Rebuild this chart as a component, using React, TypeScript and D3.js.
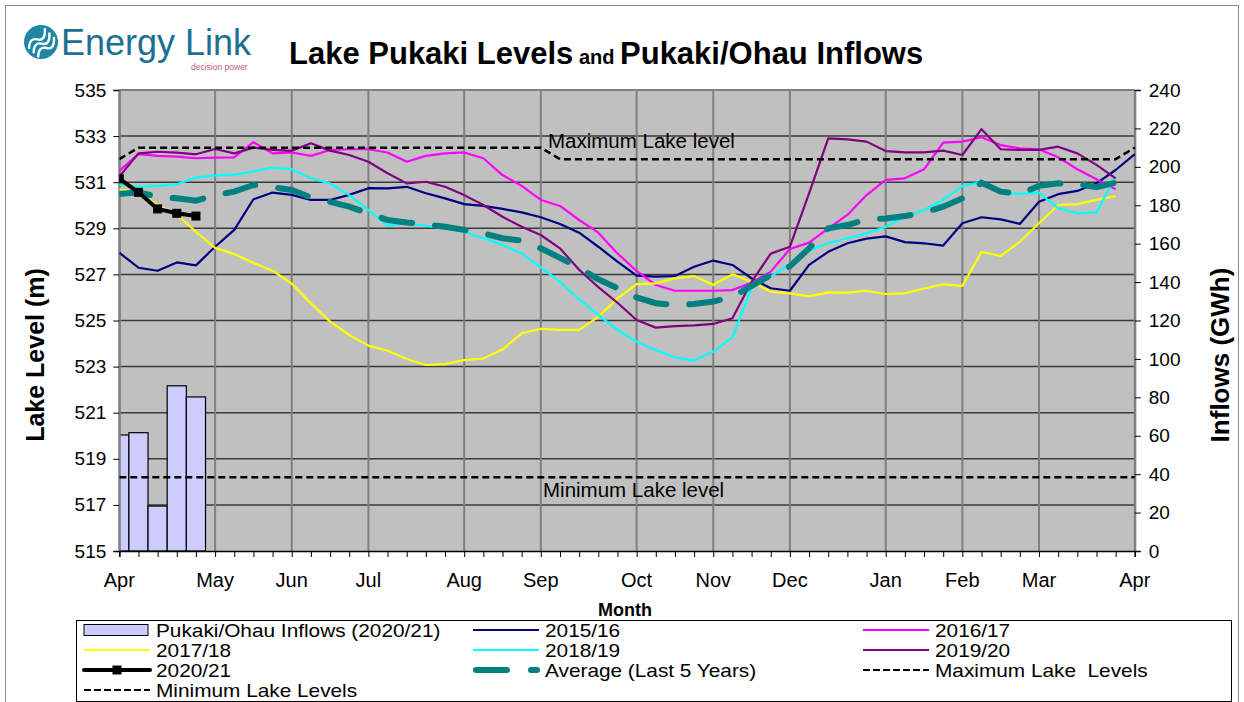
import React, { useEffect, useRef } from "react";
import * as d3 from "d3";

// months along the bottom, placed at week numbers
const monthLabels = ["Apr", "May", "Jun", "Jul", "Aug", "Sep", "Oct", "Nov", "Dec", "Jan", "Feb", "Mar", "Apr"];
const monthWeeks = [0, 5, 9, 13, 18, 22, 27, 31, 35, 40, 44, 48, 53];
const levelTicks = [515, 517, 519, 521, 523, 525, 527, 529, 531, 533, 535];
const inflowTicks = [0, 20, 40, 60, 80, 100, 120, 140, 160, 180, 200, 220, 240];

// weekly inflows 2020/21 (GWh)
const inflows2021 = [60.4, 61.6, 23.4, 86, 80.2];

// weekly lake levels (m)
const level1516 = [
  527.94, 527.29, 527.16, 527.52, 527.39, 528.2, 528.93, 530.26, 530.55, 530.45,
  530.23, 530.23, 530.45, 530.74, 530.73, 530.8, 530.52, 530.3, 530.05, 529.97,
  529.84, 529.69, 529.48, 529.19, 528.81, 528.2, 527.55, 526.95, 526.9, 526.93,
  527.33, 527.6, 527.41, 526.83, 526.4, 526.29, 527.41, 527.98, 528.35, 528.55,
  528.65, 528.4, 528.35, 528.25, 529.22, 529.48, 529.39, 529.19, 530.15, 530.48,
  530.62, 530.95, 531.53, 532.22,
];
const level1617 = [
  531.5, 532.22, 532.14, 532.11, 532.04, 532.07, 532.08, 532.74, 532.25, 532.29,
  532.14, 532.4, 532.43, 532.43, 532.29, 531.89, 532.14, 532.25, 532.29, 532.04,
  531.31, 530.84, 530.23, 529.97, 529.36, 528.81, 527.91, 527.15, 526.54, 526.29,
  526.29, 526.29, 526.32, 526.64, 527.12, 528.1, 528.38, 529.0, 529.58, 530.44,
  531.1, 531.17, 531.56, 532.72, 532.76, 532.95, 532.61, 532.47, 532.43, 532.08,
  531.56, 531.13, 530.69,
];
const level1718 = [
  530.69, 530.55, 530.0, 529.6, 528.85, 528.15, 527.88, 527.5, 527.16, 526.6,
  525.75, 524.95, 524.37, 523.91, 523.69, 523.33, 523.07, 523.11, 523.28, 523.35,
  523.74, 524.44, 524.64, 524.59, 524.59, 525.16, 525.96, 526.58, 526.61, 526.83,
  526.93, 526.54, 527.0, 526.68, 526.25, 526.18, 526.05, 526.22, 526.21, 526.29,
  526.15, 526.18, 526.39, 526.57, 526.5, 527.98, 527.8, 528.42, 529.22, 530.01,
  530.05, 530.23, 530.4,
];
const level1819 = [
  530.9, 530.8, 530.84, 530.91, 531.2, 531.3, 531.33, 531.46, 531.63, 531.56,
  531.17, 530.95, 530.44, 529.79, 529.11, 529.22, 529.11, 529.0, 528.85, 528.57,
  528.28, 527.91, 527.3, 526.68, 525.92, 525.24, 524.59, 524.08, 523.72, 523.4,
  523.26, 523.65, 524.27, 526.4, 526.9, 527.45, 528.04, 528.35, 528.57, 528.78,
  529.07, 529.5, 529.79, 530.23, 530.84, 531.0, 530.52, 530.49, 530.55, 529.87,
  529.65, 529.69, 531.24,
];
const level1920 = [
  531.24, 532.25, 532.32, 532.28, 532.21, 532.44, 532.25, 532.5, 532.4, 532.36,
  532.69, 532.37, 532.18, 531.89, 531.39, 530.95, 531.02, 530.8, 530.44, 530.01,
  529.5, 529.07, 528.71, 528.13, 527.2, 526.45, 525.77, 525.02, 524.69, 524.76,
  524.79, 524.85, 525.1, 526.68, 527.9, 528.2, 530.52, 532.9, 532.86, 532.76,
  532.35, 532.29, 532.29, 532.37, 532.18, 533.3, 532.43, 532.4, 532.4, 532.54,
  532.25, 531.75, 531.17,
];
const level2021 = [531.15, 530.56, 529.84, 529.65, 529.53];
const levelAverage = [
  530.49, 530.56, 530.37, 530.3, 530.2, 530.44, 530.59, 530.88, 530.78, 530.66,
  530.34, 530.15, 529.94, 529.65, 529.36, 529.25, 529.17, 529.07, 528.93, 528.78,
  528.57, 528.46, 528.13, 527.72, 527.28, 526.79, 526.4, 526.0, 525.75, 525.67,
  525.72, 525.82, 526.03, 526.5, 526.97, 527.35, 528.13, 529.0, 529.14, 529.39,
  529.43, 529.53, 529.68, 529.94, 530.3, 530.98, 530.59, 530.49, 530.84, 530.95,
  530.92, 530.78, 530.98,
];
// max / min consent levels, given at the weeks where they change
const maxLevelWeeks = [0, 1, 22, 23, 52, 53];
const maxLevelValues = [532.0, 532.5, 532.5, 532.0, 532.0, 532.5];
const minLevelWeeks = [0, 53];
const minLevelValues = [518.2, 518.2];

const FONT = "'Liberation Sans', Arial, sans-serif";

function App() {
  const ref = useRef<SVGSVGElement>(null);

  useEffect(() => {
    const svg = d3.select(ref.current);
    svg.selectAll("*").remove();

    const left = 119.3, right = 1134.8, top = 90, bottom = 551;
    const x = d3.scaleLinear().domain([0, 53]).range([left, right]);
    const yL = d3.scaleLinear().domain([515, 535]).range([bottom, top]);
    const yR = d3.scaleLinear().domain([0, 240]).range([bottom, top]);
    const weekW = x(1) - x(0);

    // outer frame
    svg.append("rect")
      .attr("x", 5.5).attr("y", 5.5).attr("width", 1233).attr("height", 730)
      .attr("fill", "white").attr("stroke", "#8c8c8c");

    // logo
    const logo = svg.append("g");
    logo.append("circle").attr("cx", 41).attr("cy", 42).attr("r", 17).attr("fill", "#1f86a6");
    [-6, 0, 6].forEach(o => {
      logo.append("path")
        .attr("d", `M${29 + o * 0.3},${48 + o} q6,-10 12,-4 q6,6 12,-6`)
        .attr("fill", "none").attr("stroke", "white").attr("stroke-width", 2.4)
        .attr("transform", `rotate(-30,41,42)`);
    });
    logo.append("text").attr("x", 61).attr("y", 55)
      .style("font-family", FONT).style("font-size", "36px").attr("fill", "#1b6f93")
      .text("Energy Link");
    logo.append("text").attr("x", 191).attr("y", 70)
      .style("font-family", FONT).style("font-size", "8.5px").attr("fill", "#c9587c")
      .text("decision power");

    // title
    const title = svg.append("text").attr("x", 289).attr("y", 64)
      .style("font-family", FONT).style("font-weight", "bold").attr("fill", "black");
    title.append("tspan").style("font-size", "31px").text("Lake Pukaki Levels");
    title.append("tspan").style("font-size", "20px").text(" and ");
    title.append("tspan").style("font-size", "31px").text("Pukaki/Ohau Inflows");

    // plot area
    svg.append("rect")
      .attr("x", left).attr("y", top).attr("width", right - left).attr("height", bottom - top)
      .attr("fill", "#c0c0c0");

    svg.append("clipPath").attr("id", "plotClip")
      .append("rect").attr("x", left).attr("y", top - 10).attr("width", right - left + 2).attr("height", bottom - top + 10);

    // horizontal grid
    svg.append("g").selectAll("line")
      .data(levelTicks.filter(d => d > 515 && d < 535))
      .join("line")
      .attr("x1", left).attr("x2", right)
      .attr("y1", d => yL(d)).attr("y2", d => yL(d))
      .attr("stroke", "#3a3a3a").attr("stroke-width", 1.5);

    // vertical grid (months)
    svg.append("g").selectAll("line")
      .data(monthWeeks)
      .join("line")
      .attr("x1", d => x(d)).attr("x2", d => x(d))
      .attr("y1", top).attr("y2", bottom)
      .attr("stroke", "#808080").attr("stroke-width", 2);

    svg.append("line").attr("x1", left).attr("x2", right).attr("y1", top).attr("y2", top)
      .attr("stroke", "#808080").attr("stroke-width", 2);

    // inflow bars
    svg.append("g").attr("clip-path", "url(#plotClip)")
      .selectAll("rect")
      .data(inflows2021)
      .join("rect")
      .attr("x", (d, i) => x(i) - weekW / 2)
      .attr("y", d => yR(d))
      .attr("width", weekW)
      .attr("height", d => bottom - yR(d))
      .attr("fill", "#ccccff").attr("stroke", "black").attr("stroke-width", 1.2);

    // axes
    const axisL = svg.append("g").attr("transform", `translate(${left},0)`)
      .call(d3.axisLeft(yL).tickValues(levelTicks).tickSize(6).tickFormat(d3.format("d")));
    axisL.select(".domain").attr("stroke", "#808080").attr("stroke-width", 2);
    axisL.selectAll("text").style("font-family", FONT).style("font-size", "19px").attr("fill", "black").attr("x", -13);

    const axisR = svg.append("g").attr("transform", `translate(${right},0)`)
      .call(d3.axisRight(yR).tickValues(inflowTicks).tickSize(6));
    axisR.select(".domain").attr("stroke", "#808080").attr("stroke-width", 2);
    axisR.selectAll("text").style("font-family", FONT).style("font-size", "19px").attr("fill", "black").attr("x", 14);

    const axisB = svg.append("g").attr("transform", `translate(0,${bottom})`)
      .call(d3.axisBottom(x).tickValues(d3.range(0, 54)).tickSize(6).tickFormat(() => ""));
    axisB.select(".domain").attr("stroke", "black").attr("stroke-width", 1.5);

    svg.append("g").selectAll("text")
      .data(monthLabels)
      .join("text")
      .attr("x", (d, i) => x(monthWeeks[i]))
      .attr("y", 587)
      .attr("text-anchor", "middle")
      .style("font-family", FONT).style("font-size", "20px")
      .text(d => d);

    // axis titles
    svg.append("text").attr("x", 625).attr("y", 616).attr("text-anchor", "middle")
      .style("font-family", FONT).style("font-size", "18px").style("font-weight", "bold")
      .text("Month");
    svg.append("text").attr("transform", "translate(44,355) rotate(-90)").attr("text-anchor", "middle")
      .style("font-family", FONT).style("font-size", "25px").style("font-weight", "bold")
      .text("Lake Level (m)");
    svg.append("text").attr("transform", "translate(1229,355) rotate(-90)").attr("text-anchor", "middle")
      .style("font-family", FONT).style("font-size", "26px").style("font-weight", "bold")
      .text("Inflows (GWh)");

    // lines
    const line = d3.line<number>().x((d, i) => x(i)).y(d => yL(d));
    const lines = svg.append("g").attr("clip-path", "url(#plotClip)");
    const series = [
      { data: level1516, color: "#000080" },
      { data: level1617, color: "#ff00ff" },
      { data: level1718, color: "#ffff00" },
      { data: level1819, color: "#00ffff" },
      { data: level1920, color: "#800080" },
    ];
    series.forEach(s => {
      lines.append("path").attr("d", line(s.data))
        .attr("fill", "none").attr("stroke", s.color).attr("stroke-width", 2.2)
        .attr("stroke-linejoin", "round");
    });

    lines.append("path").attr("d", line(levelAverage))
      .attr("fill", "none").attr("stroke", "#008080").attr("stroke-width", 6)
      .attr("stroke-dasharray", "31 23").attr("stroke-linecap", "round");

    const stepLine = d3.line<number>().x(d => x(d[0])).y(d => yL(d[1]));
    lines.append("path").attr("d", stepLine(maxLevelWeeks.map((w, i) => [w, maxLevelValues[i]])))
      .attr("fill", "none").attr("stroke", "black").attr("stroke-width", 2.5).attr("stroke-dasharray", "7 4");
    lines.append("path").attr("d", stepLine(minLevelWeeks.map((w, i) => [w, minLevelValues[i]])))
      .attr("fill", "none").attr("stroke", "black").attr("stroke-width", 2.5).attr("stroke-dasharray", "7 4");

    lines.append("path").attr("d", line(level2021))
      .attr("fill", "none").attr("stroke", "black").attr("stroke-width", 4);
    lines.append("g").selectAll("rect")
      .data(level2021)
      .join("rect")
      .attr("x", (d, i) => x(i) - 4.5).attr("y", d => yL(d) - 4.5)
      .attr("width", 9).attr("height", 9).attr("fill", "black");

    svg.append("text").attr("x", 548).attr("y", 148)
      .style("font-family", FONT).style("font-size", "20.5px").text("Maximum Lake level");
    svg.append("text").attr("x", 543).attr("y", 497)
      .style("font-family", FONT).style("font-size", "20.5px").text("Minimum Lake level");

    // legend
    const lg = svg.append("g");
    lg.append("rect").attr("x", 76.5).attr("y", 620.5).attr("width", 1155).attr("height", 81)
      .attr("fill", "white").attr("stroke", "black").attr("stroke-width", 1);
    const cols = [84, 473, 863];
    const rowY = [630, 650, 670, 690];
    const items = [
      { label: "Pukaki/Ohau Inflows (2020/21)", kind: "bar", color: "#ccccff" },
      { label: "2015/16", kind: "line", color: "#000080" },
      { label: "2016/17", kind: "line", color: "#ff00ff" },
      { label: "2017/18", kind: "line", color: "#ffff00" },
      { label: "2018/19", kind: "line", color: "#00ffff" },
      { label: "2019/20", kind: "line", color: "#800080" },
      { label: "2020/21", kind: "marker", color: "black" },
      { label: "Average (Last 5 Years)", kind: "avg", color: "#008080" },
      { label: "Maximum Lake  Levels", kind: "dash", color: "black" },
      { label: "Minimum Lake Levels", kind: "dash", color: "black" },
    ];
    items.forEach((it, i) => {
      const cx = cols[i % 3];
      const cy = rowY[Math.floor(i / 3)];
      const g = lg.append("g");
      if (it.kind === "bar") {
        g.append("rect").attr("x", cx).attr("y", cy - 5.5).attr("width", 64).attr("height", 11)
          .attr("fill", it.color).attr("stroke", "black").attr("stroke-width", 1);
      } else if (it.kind === "line") {
        g.append("line").attr("x1", cx).attr("x2", cx + 66).attr("y1", cy).attr("y2", cy)
          .attr("stroke", it.color).attr("stroke-width", 2.2);
      } else if (it.kind === "marker") {
        g.append("line").attr("x1", cx).attr("x2", cx + 66).attr("y1", cy).attr("y2", cy)
          .attr("stroke", "black").attr("stroke-width", 4).attr("stroke-linecap", "round");
        g.append("rect").attr("x", cx + 28.5).attr("y", cy - 4.5).attr("width", 9).attr("height", 9).attr("fill", "black");
      } else if (it.kind === "avg") {
        g.append("line").attr("x1", cx + 3).attr("x2", cx + 64).attr("y1", cy).attr("y2", cy)
          .attr("stroke", it.color).attr("stroke-width", 6).attr("stroke-linecap", "round")
          .attr("stroke-dasharray", "31 24");
      } else {
        g.append("line").attr("x1", cx).attr("x2", cx + 66).attr("y1", cy).attr("y2", cy)
          .attr("stroke", "black").attr("stroke-width", 2).attr("stroke-dasharray", "7 3");
      }
      // measure at the reference width, then draw a bit shorter and stretch to fit the row height
      const t = g.append("text").attr("x", cx + 72).attr("y", cy + 6.5)
        .style("font-family", FONT).style("font-size", "20.8px")
        .style("white-space", "pre")
        .text(it.label);
      const node = t.node() as SVGTextElement;
      const len = node.getComputedTextLength();
      t.style("font-size", "17.8px").attr("textLength", len).attr("lengthAdjust", "spacingAndGlyphs");
    });
  }, []);

  return (
    <svg ref={ref} width={1244} height={702}
      style={{ position: "absolute", left: 0, top: 0, background: "white" }} />
  );
}

export default App;
